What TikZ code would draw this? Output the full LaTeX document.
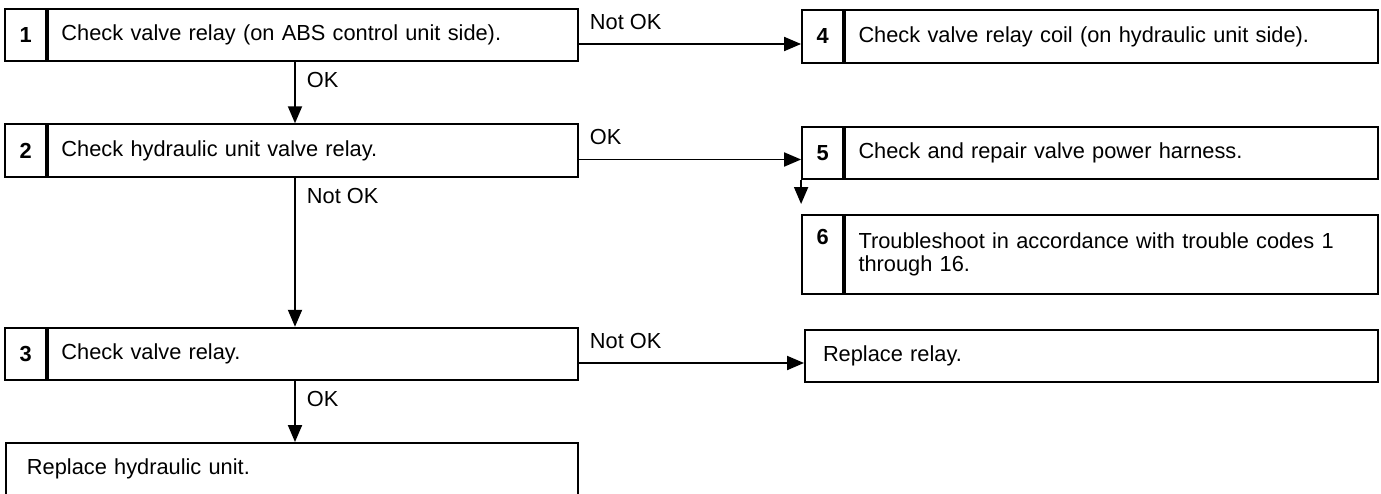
\documentclass[tikz,border=0pt]{standalone}
\usepackage{fontspec}
\setmainfont{Liberation Sans}
\usetikzlibrary{arrows.meta, positioning}
\tikzset{
  stepbox/.style={draw=black, line width=1.1pt, minimum height=1.05cm, inner xsep=0.27cm,
                  inner ysep=0pt, align=left, font=\fontsize{12.4}{13.4}\selectfont},
  numbox/.style={draw=black, line width=1.1pt, minimum height=1.05cm, minimum width=0.82cm,
                 inner sep=0pt, font=\fontsize{12.4}{13.4}\selectfont\bfseries},
  flowarrow/.style={-{Triangle[length=0.34cm, width=0.28cm]}, line width=1.1pt, black},
  flowlabel/.style={inner sep=0pt, font=\fontsize{12.4}{13.4}\selectfont},
}

\begin{document}
\begin{tikzpicture}
  \useasboundingbox (0,0) rectangle (27.62,9.86);
  \clip (0,0) rectangle (27.62,9.86);
  \node[stepbox, text width=10.06cm] (b1) at (6.26, 9.16) {Check valve relay (on ABS control unit side).};
  \node[numbox, anchor=east] (n1) at (b1.west) {1};
  \node[stepbox, text width=10.06cm] (b2) at (6.26, 6.85) {Check hydraulic unit valve relay.};
  \node[numbox, anchor=east] (n2) at (b2.west) {2};
  \node[stepbox, text width=10.06cm] (b3) at (6.26, 2.78) {Check valve relay.};
  \node[numbox, anchor=east] (n3) at (b3.west) {3};
  \node[stepbox, text width=10.6cm, inner xsep=0.42cm] (rh) at (5.84, 0.475) {Replace hydraulic unit.};
  \node[stepbox, text width=10.12cm] (b4) at (22.23, 9.13) {Check valve relay coil (on hydraulic unit side).};
  \node[numbox, anchor=east] (n4) at (b4.west) {4};
  \node[stepbox, text width=10.12cm] (b5) at (22.23, 6.80) {Check and repair valve power harness.};
  \node[numbox, anchor=east] (n5) at (b5.west) {5};
  \node[stepbox, text width=10.12cm, minimum height=1.58cm] (b6) at (22.23, 4.77)
    {Troubleshoot in accordance with trouble codes 1\\through 16.};
  \node[numbox, anchor=east, minimum height=1.58cm, text height=0.3cm, text depth=0.7cm] (n6) at (b6.west) {6};
  \node[stepbox, text width=10.74cm, inner xsep=0.36cm] (rr) at (21.83, 2.74) {Replace relay.};

  \draw[flowarrow] ([xshift=-0.36cm]b1.south) --
    node[flowlabel, anchor=north west, pos=0, xshift=0.22cm, yshift=-0.19cm] (l12) {OK}
    ([xshift=-0.36cm]b1.south |- b2.north);
  \draw[flowarrow] ([xshift=-0.36cm]b2.south) --
    node[flowlabel, anchor=north west, pos=0, xshift=0.22cm, yshift=-0.19cm] (l23) {Not OK}
    ([xshift=-0.36cm]b2.south |- b3.north);
  \draw[flowarrow] ([xshift=-0.36cm]b3.south) --
    node[flowlabel, anchor=north west, pos=0, xshift=0.22cm, yshift=-0.19cm] (l3h) {OK}
    ([xshift=-0.36cm]b3.south |- rh.north);
  \draw[flowarrow] ([yshift=-0.18cm]b1.east) --
    node[flowlabel, anchor=base west, pos=0, xshift=0.2cm, yshift=0.3cm] (l14) {Not OK}
    ([yshift=-0.18cm]b1.east -| n4.west);
  \draw[flowarrow] ([yshift=-0.18cm]b2.east) --
    node[flowlabel, anchor=base west, pos=0, xshift=0.2cm, yshift=0.3cm] (l25) {OK}
    ([yshift=-0.18cm]b2.east -| n5.west);
  \draw[flowarrow] ([yshift=-0.18cm]b3.east) --
    node[flowlabel, anchor=base west, pos=0, xshift=0.2cm, yshift=0.3cm] (l3r) {Not OK}
    ([yshift=-0.18cm]b3.east -| rr.west);
  \draw[flowarrow, shorten >=0.2cm] (n5.south west) -- (n6.north west);
\end{tikzpicture}
\end{document}
